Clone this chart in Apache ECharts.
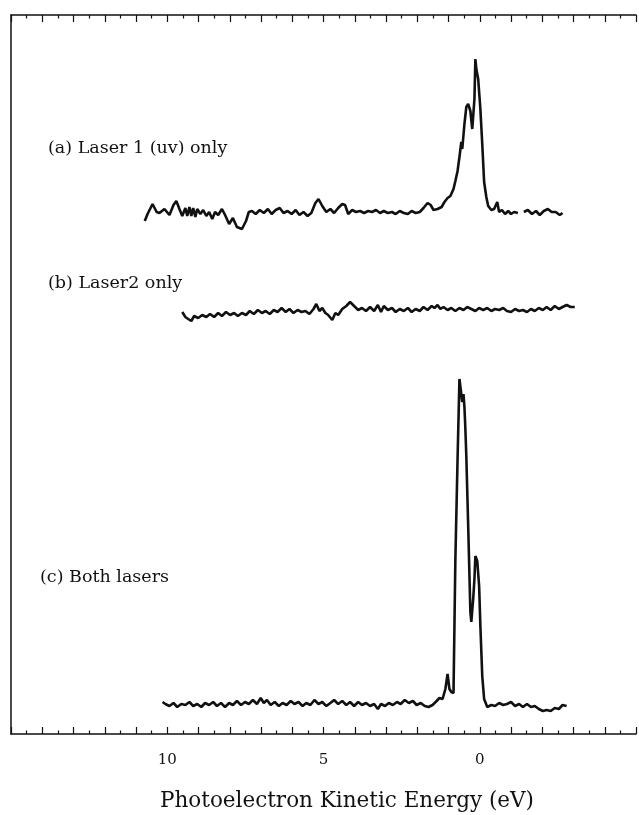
<!DOCTYPE html>
<html>
<head>
<meta charset="utf-8">
<script src="https://cdn.jsdelivr.net/npm/echarts@6/dist/echarts.min.js"></script>
<style>
  html, body { margin: 0; padding: 0; background: #fff; }
  #chart { width: 639px; height: 815px; }
</style>
</head>
<body>
<div id="chart"></div>
<script>
// energy in eV, intensity above each trace's own baseline (arb. units)
const energyA = [10.72,10.63,10.47,10.34,10.25,10.09,9.93,9.80,9.71,9.61,9.52,9.42,9.36,9.29,9.23,9.17,9.10,9.04,8.94,8.85,8.75,8.66,8.56,8.47,8.37,8.25,8.15,8.02,7.90,7.77,7.61,7.48,7.39,7.29,7.17,7.04,6.91,6.78,6.66,6.53,6.40,6.28,6.15,6.02,5.89,5.77,5.64,5.51,5.39,5.26,5.16,5.04,4.91,4.78,4.66,4.53,4.40,4.31,4.21,4.08,3.96,3.83,3.70,3.57,3.45,3.32,3.19,3.07,2.94,2.81,2.69,2.56,2.43,2.30,2.18,2.05,1.92,1.80,1.67,1.57,1.48,1.35,1.22,1.13,1.03,0.94,0.84,0.78,0.71,0.65,0.59,0.56,0.49,0.43,0.37,0.30,0.24,0.17,0.14,0.11,0.05,-0.02,-0.08,-0.14,-0.21,-0.27,-0.37,-0.46,-0.56,-0.62,-0.71,-0.81,-0.91,-1.00,-1.10,-1.22,-1.32,-1.41,-1.54,-1.67,-1.80,-1.92,-2.05,-2.18,-2.30,-2.43,-2.56,-2.65];
const countsA = [-9,-2,8,0,-1,3,-3,7,11,3,-4,4,-4,5,-4,4,-5,3,-2,2,-4,0,-7,0,-3,3,-3,-12,-6,-15,-17,-9,0,1,-2,2,-1,3,-2,2,4,-1,1,-2,2,-3,0,-4,-1,9,13,6,0,3,-1,4,8,7,-2,2,0,1,-1,1,0,2,-1,1,-1,0,-2,1,-1,-2,1,-1,0,4,9,7,2,3,5,10,14,16,23,31,41,55,70,63,88,105,108,101,83,113,153,143,133,103,68,30,15,6,2,3,10,0,2,-2,1,-2,0,-1,null,0,2,-2,1,-3,1,3,0,0,-3,-1];

const energyB = [9.52,9.42,9.33,9.23,9.14,9.01,8.88,8.75,8.63,8.50,8.37,8.25,8.12,7.99,7.86,7.74,7.61,7.48,7.36,7.23,7.10,6.97,6.85,6.72,6.59,6.47,6.34,6.21,6.09,5.96,5.83,5.70,5.58,5.45,5.32,5.23,5.13,5.04,4.94,4.85,4.72,4.62,4.53,4.40,4.27,4.15,4.02,3.89,3.77,3.64,3.51,3.38,3.26,3.16,3.07,2.94,2.81,2.69,2.56,2.43,2.30,2.18,2.05,1.92,1.80,1.67,1.54,1.45,1.35,1.26,1.16,1.03,0.91,0.78,0.65,0.52,0.40,0.27,0.14,0.02,-0.11,-0.24,-0.37,-0.49,-0.62,-0.75,-0.87,-1.00,-1.13,-1.26,-1.38,-1.51,-1.64,-1.76,-1.89,-2.02,-2.14,-2.27,-2.40,-2.53,-2.65,-2.78,-2.91,-3.04];
const countsB = [-1,-6,-8,-10,-5,-7,-4,-6,-3,-6,-2,-5,-1,-4,-2,-5,-2,-4,0,-3,1,-2,0,-3,1,-1,3,-1,2,-2,1,-1,0,-3,2,7,0,3,-2,-4,-9,-2,-4,2,5,9,5,1,3,0,4,0,6,-1,5,1,3,-1,2,0,3,-1,2,0,4,1,5,3,6,2,4,1,3,0,3,1,4,2,0,3,1,3,0,2,1,3,0,-1,2,0,1,-1,2,0,3,1,4,1,5,2,4,6,4,4];

const energyC = [10.15,10.06,9.93,9.80,9.68,9.55,9.42,9.29,9.17,9.04,8.91,8.79,8.66,8.53,8.41,8.28,8.15,8.02,7.90,7.77,7.64,7.51,7.39,7.26,7.13,7.01,6.91,6.81,6.69,6.56,6.43,6.31,6.18,6.05,5.93,5.80,5.67,5.55,5.42,5.29,5.16,5.04,4.91,4.78,4.66,4.53,4.40,4.27,4.15,4.02,3.89,3.77,3.64,3.51,3.38,3.26,3.16,3.03,2.91,2.78,2.65,2.53,2.40,2.27,2.14,2.02,1.89,1.76,1.64,1.51,1.38,1.29,1.19,1.10,1.03,0.97,0.91,0.84,0.78,0.71,0.65,0.62,0.56,0.52,0.49,0.46,0.43,0.37,0.30,0.27,0.21,0.17,0.14,0.08,0.02,-0.02,-0.08,-0.14,-0.24,-0.37,-0.49,-0.62,-0.75,-0.87,-1.00,-1.13,-1.26,-1.38,-1.51,-1.64,-1.76,-1.89,-2.02,-2.14,-2.27,-2.40,-2.53,-2.65,-2.78];
const countsC = [2,0,-2,1,-3,0,-1,2,-2,0,-3,1,-1,2,-2,1,-3,1,-1,3,-1,2,0,4,0,6,1,4,-1,2,-2,1,-1,3,0,2,-2,1,-1,4,0,2,-2,1,4,0,3,-1,2,-2,2,-1,1,-2,0,-5,0,-2,1,-1,2,0,4,1,3,-1,1,-2,-3,-1,3,6,5,15,30,15,12,11,145,245,325,327,302,310,297,275,248,178,92,82,105,125,148,143,118,78,28,5,-3,-1,-2,1,-1,0,2,-2,0,-3,0,-3,-2,-5,-7,-6,-7,-4,-5,-1,-2];

const traceLabels = ['(a) Laser 1 (uv) only', '(b) Laser2 only', '(c) Both lasers'];
const tickLabels = ['10', '5', '0'];
const axisTitle = 'Photoelectron Kinetic Energy (eV)';

// vertical offsets that stack the three traces
const baseA = 522, baseB = 423, baseC = 30;

function pairs (xs, ys, base) {
  let out = []
  for (let i = 0; i < xs.length; i++) {
    out.push([xs[i], ys[i] === null ? null : ys[i] + base])
  }
  return out
}

let chart = echarts.init(document.getElementById('chart'))
const serif = '"DejaVu Serif", "Liberation Serif", serif'

const xCommon = {
  type: 'value',
  min: -5,
  max: 15,
  interval: 1,
  inverse: true,
  axisLine: { show: true, onZero: false, lineStyle: { color: '#111', width: 1.5 } },
  axisTick: { show: true, inside: true, length: 7, lineStyle: { color: '#111', width: 1.2 } },
  minorTick: { show: true, splitNumber: 2, length: 3.5, lineStyle: { color: '#111', width: 1.2 } },
  splitLine: { show: false }
}

let lineSeries = function (xs, ys, base) {
  return {
    type: 'line',
    data: pairs(xs, ys, base),
    showSymbol: false,
    connectNulls: false,
    lineStyle: { color: '#111', width: 2.6 },
    silent: true,
    animation: false
  }
}

let labelText = function (txt, x, y, size) {
  return {
    type: 'text',
    x: x,
    y: y,
    style: { text: txt, font: size + 'px ' + serif, fill: '#111', verticalAlign: 'middle' }
  }
}

let option = {
  animation: false,
  backgroundColor: '#fff',
  grid: { left: 11, right: -3, top: 15, bottom: 81 },
  xAxis: [
    Object.assign({}, xCommon, {
      position: 'bottom',
      axisLabel: {
        show: true,
        margin: 19,
        fontFamily: serif,
        fontSize: 15,
        color: '#111',
        formatter (v) {
          return tickLabels.includes(String(v)) ? String(v) : ''
        }
      }
    }),
    Object.assign({}, xCommon, {
      position: 'top',
      axisLabel: { show: false }
    })
  ],
  yAxis: {
    type: 'value',
    min: 0,
    max: 719,
    position: 'left',
    axisLine: { show: true, onZero: false, lineStyle: { color: '#111', width: 1.5 } },
    axisTick: { show: false },
    axisLabel: { show: false },
    splitLine: { show: false }
  },
  graphic: [
    labelText(traceLabels[0], 48, 148, 17.5),
    labelText(traceLabels[1], 48, 283, 17.5),
    labelText(traceLabels[2], 40, 577, 17.5),
    {
      type: 'text',
      x: 347,
      y: 801,
      style: { text: axisTitle, font: '21.5px ' + serif, fill: '#111', align: 'center', verticalAlign: 'middle' }
    }
  ],
  series: [
    lineSeries(energyA, countsA, baseA),
    lineSeries(energyB, countsB, baseB),
    lineSeries(energyC, countsC, baseC)
  ]
}

chart.setOption(option)
</script>
</body>
</html>
